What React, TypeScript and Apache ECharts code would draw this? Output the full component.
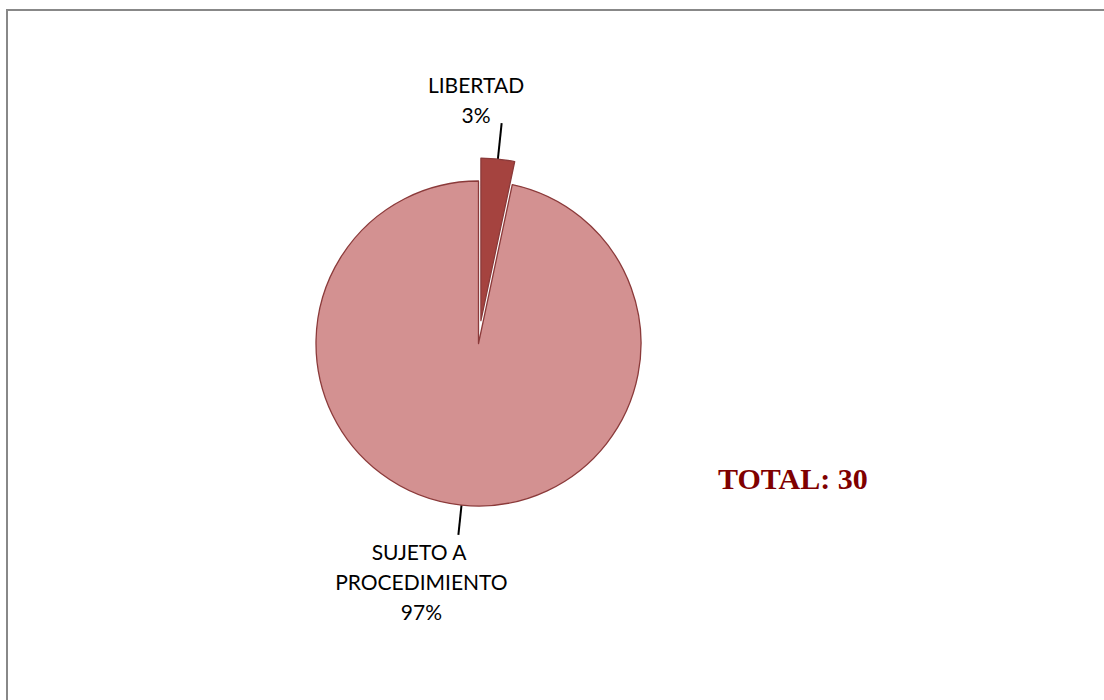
import React, { useEffect, useRef } from "react";
import * as echarts from "echarts";

const categories = ["LIBERTAD", "SUJETO A PROCEDIMIENTO"];
const values = [1, 29];
const sliceColors = ["#A5433F", "#D39191"];
const totalLabel = "TOTAL: ";

export default function App() {
  const ref = useRef<HTMLDivElement>(null);

  useEffect(() => {
    if (!ref.current) return;
    const chart = echarts.init(ref.current, null, { renderer: "svg" });
    const total = values.reduce((a, b) => a + b, 0);
    // length used for label placement, and drawn leader length
    const lineLengths = [30, 30];
    const drawnLengths = [36, 30];
    const labelPaddings = [
      [0, 60, 0, 0],
      [0, 0, 0, 0],
    ];

    const option: any = {
      animation: false,
      backgroundColor: "#ffffff",
      title: {
        text: totalLabel + total,
        left: 713,
        top: 458,
        textStyle: {
          fontFamily: "Liberation Serif",
          fontWeight: "bold",
          fontSize: 30,
          color: "#7F0000",
        },
      },
      graphic: [
        {
          type: "rect",
          silent: true,
          shape: { x: 7, y: 10, width: 1200, height: 800 },
          style: { fill: "none", stroke: "#888888", lineWidth: 2 },
        },
      ],
      series: [
        {
          type: "pie",
          center: [478.5, 343.5],
          radius: 162.5,
          startAngle: 90,
          clockwise: true,
          selectedMode: "single",
          selectedOffset: 23,
          emphasis: { disabled: true },
          avoidLabelOverlap: false,
          itemStyle: { borderColor: "#8B3A3A", borderWidth: 1.3 },
          label: {
            show: true,
            position: "outside",
            fontFamily: "Lato",
            fontSize: 21,
            lineHeight: 30,
            color: "#000000",
            width: 200,
            overflow: "break",
            formatter: (p: any) => p.name + "\n" + Math.round(p.percent) + "%",
          },
          labelLine: {
            show: true,
            length2: 0,
            lineStyle: { color: "#000000", width: 2 },
          },
          labelLayout: (params: any) => {
            const pts = params.labelLinePoints;
            if (!pts) return {};
            const i = params.dataIndex;
            const p0 = pts[0];
            const p1 = pts[1];
            const k = drawnLengths[i] / lineLengths[i];
            const e = [p0[0] + (p1[0] - p0[0]) * k, p0[1] + (p1[1] - p0[1]) * k];
            const linePts = [p0, e, e];
            if (i === 0) {
              return {
                align: "center",
                verticalAlign: "bottom",
                labelLinePoints: linePts,
              };
            }
            return {
              x: p1[0] - 37,
              y: p1[1] + 2,
              align: "center",
              verticalAlign: "top",
              labelLinePoints: linePts,
            };
          },
          data: categories.map((name, i) => ({
            name,
            value: values[i],
            selected: i === 0,
            itemStyle: { color: sliceColors[i] },
            label: { padding: labelPaddings[i] },
            labelLine: { length: lineLengths[i] },
          })),
        },
      ],
    };
    chart.setOption(option);
    return () => chart.dispose();
  }, []);

  return (
    <div
      ref={ref}
      style={{ position: "fixed", left: 0, top: 0, width: 1104, height: 700 }}
    />
  );
}
